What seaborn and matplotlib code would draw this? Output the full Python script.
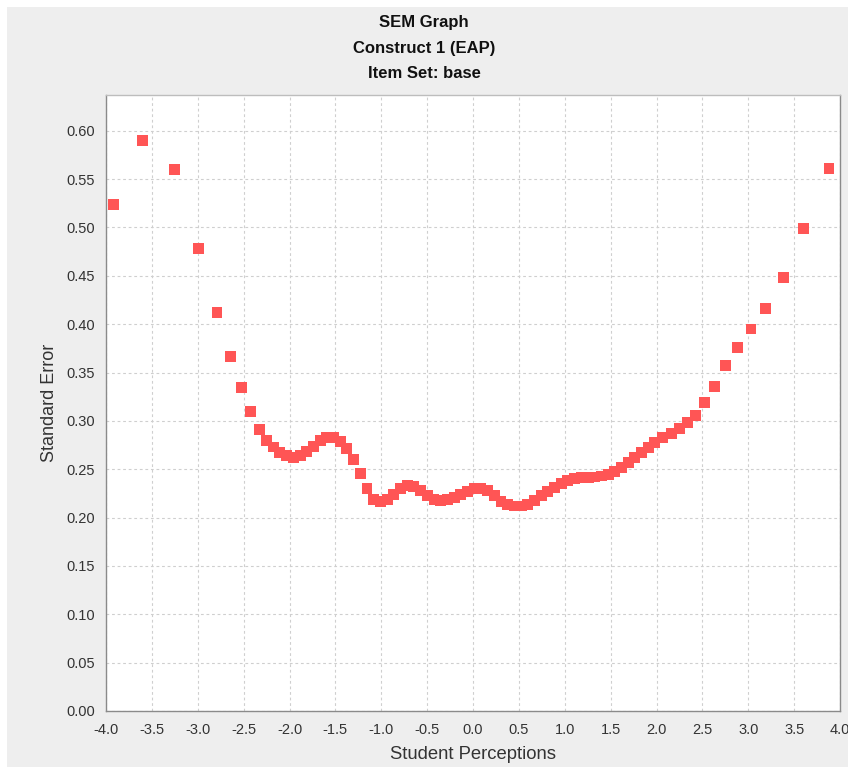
import matplotlib
matplotlib.use("Agg")
import matplotlib.pyplot as plt
import seaborn as sns
import pandas as pd
from matplotlib.patches import Rectangle

# ---- data ----
x_left = [-3.92, -3.60, -3.25, -2.99, -2.79, -2.64, -2.52, -2.42, -2.33]
y_left = [0.524, 0.590, 0.560, 0.478, 0.412, 0.367, 0.335, 0.310, 0.291]

x_mid = [-2.250, -2.177, -2.104, -2.031, -1.958, -1.885, -1.812, -1.739, -1.666, -1.593,
         -1.520, -1.447, -1.374, -1.301, -1.228, -1.155, -1.082, -1.009, -0.936, -0.863,
         -0.790, -0.717, -0.644, -0.571, -0.498, -0.425, -0.352, -0.279, -0.206, -0.133,
         -0.060, 0.013, 0.086, 0.159, 0.232, 0.305, 0.378, 0.451, 0.524, 0.597,
         0.670, 0.743, 0.816, 0.889, 0.962, 1.035, 1.108, 1.181, 1.254, 1.327,
         1.400, 1.473, 1.546, 1.619, 1.692, 1.765, 1.838, 1.911]
y_mid = [0.280, 0.273, 0.267, 0.264, 0.262, 0.264, 0.268, 0.274, 0.280, 0.283,
         0.283, 0.279, 0.271, 0.260, 0.246, 0.230, 0.219, 0.217, 0.219, 0.224,
         0.230, 0.233, 0.232, 0.228, 0.223, 0.219, 0.218, 0.219, 0.221, 0.224,
         0.227, 0.230, 0.230, 0.228, 0.223, 0.217, 0.214, 0.212, 0.212, 0.214,
         0.218, 0.223, 0.227, 0.231, 0.235, 0.238, 0.240, 0.241, 0.241, 0.242,
         0.243, 0.245, 0.248, 0.252, 0.257, 0.262, 0.267, 0.272]

x_right = [1.98, 2.07, 2.16, 2.25, 2.34, 2.42, 2.52, 2.63, 2.75, 2.88, 3.03, 3.19, 3.38, 3.60, 3.88]
y_right = [0.278, 0.283, 0.287, 0.292, 0.298, 0.306, 0.319, 0.336, 0.357, 0.376, 0.395, 0.416, 0.448, 0.499, 0.561]

x_ticks = [-4.0, -3.5, -3.0, -2.5, -2.0, -1.5, -1.0, -0.5, 0.0, 0.5, 1.0, 1.5, 2.0, 2.5, 3.0, 3.5, 4.0]
y_ticks = [0.00, 0.05, 0.10, 0.15, 0.20, 0.25, 0.30, 0.35, 0.40, 0.45, 0.50, 0.55, 0.60]

title_lines = ["SEM Graph", "Construct 1 (EAP)", "Item Set: base"]
x_label = "Student Perceptions"
y_label = "Standard Error"

df = pd.DataFrame({"theta": x_left + x_mid + x_right,
                   "sem": y_left + y_mid + y_right})

# ---- plot ----
sns.set_style("white")
plt.rcParams["font.family"] = ["Liberation Sans", "DejaVu Sans"]

W, H = 848, 769
fig = plt.figure(figsize=(W / 100, H / 100), dpi=100, facecolor="white")
fig.patches.append(Rectangle((7 / W, 2 / H), 1 - 7 / W, (H - 9) / H,
                             transform=fig.transFigure, facecolor="#EEEEEE",
                             edgecolor="none", zorder=-10))

ax = fig.add_axes([106 / W, (H - 711) / H, (840 - 106) / W, (711 - 95) / H])
ax.set_facecolor("white")

sns.scatterplot(data=df, x="theta", y="sem", ax=ax, marker="s", s=62,
                color="#FF5555", edgecolor="none", linewidth=0, zorder=3)

ax.set_xlim(-4.0, 4.0)
ax.set_ylim(0.0, 0.637)
ax.set_xticks(x_ticks)
ax.set_xticklabels([f"{v:.1f}" for v in x_ticks])
ax.set_yticks(y_ticks)
ax.set_yticklabels([f"{v:.2f}" for v in y_ticks])

ax.grid(True, color="#CFCFCF", linestyle=(0, (2.5, 2.5)), linewidth=0.8, zorder=0)
ax.tick_params(axis="both", direction="out", length=4, width=0.8, color="#808080",
               labelsize=10.5, labelcolor="#333333")
ax.tick_params(axis="x", pad=5)
ax.tick_params(axis="y", pad=4)
for side in ["left", "bottom", "right", "top"]:
    ax.spines[side].set_visible(True)
    ax.spines[side].set_color("#8A8A8A")
    ax.spines[side].set_linewidth(1.0)
ax.spines["top"].set_color("#BDBDBD")

ax.set_xlabel(x_label, fontsize=13.3, color="#333333", labelpad=6)
ax.set_ylabel(y_label, fontsize=13, color="#333333", labelpad=6)

for i, t in enumerate(title_lines):
    fig.text(424 / W, 1 - (22 + 26 * i) / H, t, ha="center", va="center",
             fontsize=12, fontweight="bold", color="#111111")

fig.savefig("out.png", dpi=100, facecolor=fig.get_facecolor())
